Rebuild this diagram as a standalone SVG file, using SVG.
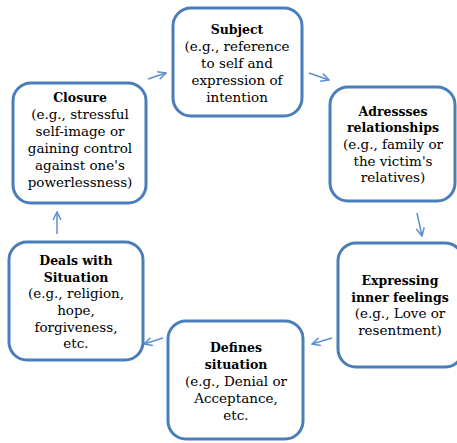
<svg xmlns="http://www.w3.org/2000/svg" width="457" height="443" viewBox="0 0 457 443">
<defs>
<style>
.box{fill:#fff;stroke:#4A7EBB;stroke-width:3}
.t{font-family:'DejaVu Serif',serif;font-size:13.5px;fill:#000;text-anchor:middle}
.b{font-weight:bold;font-size:12.5px}
.c{stroke:#5B8FD0;stroke-width:1.5;fill:none}
</style>
<marker id="ah" viewBox="0 0 10 10" refX="9" refY="5" markerWidth="10" markerHeight="10" markerUnits="userSpaceOnUse" orient="auto">
<path d="M1,1 L9,5 L1,9" fill="none" stroke="#5B8FD0" stroke-width="1.5"/>
</marker>
</defs>
<rect width="457" height="443" fill="#fff"/>
<g id="connectors">
<line class="c" x1="148" y1="79" x2="166" y2="73" marker-end="url(#ah)"/>
<line class="c" x1="309" y1="73" x2="329" y2="80" marker-end="url(#ah)"/>
<line class="c" x1="417" y1="213" x2="422" y2="236" marker-end="url(#ah)"/>
<line class="c" x1="332" y1="338" x2="312" y2="344" marker-end="url(#ah)"/>
<line class="c" x1="163" y1="338" x2="144" y2="344" marker-end="url(#ah)"/>
<line class="c" x1="57" y1="234" x2="57" y2="212" marker-end="url(#ah)"/>
</g>
<g id="subject">
<rect class="box" x="173" y="8" width="129" height="108" rx="18"/>
<text class="t b" x="237" y="34">Subject</text>
<text class="t" x="237" y="51">(e.g., reference</text>
<text class="t" x="237" y="68">to self and</text>
<text class="t" x="237" y="85">expression of</text>
<text class="t" x="237" y="102">intention</text>
</g>
<g id="adresses">
<rect class="box" x="330" y="87" width="125" height="114" rx="18"/>
<text class="t b" x="393" y="116">Adressses</text>
<text class="t b" x="393" y="132">relationships</text>
<text class="t" x="393" y="149">(e.g., family or</text>
<text class="t" x="393" y="166">the victim's</text>
<text class="t" x="393" y="182">relatives)</text>
</g>
<g id="expressing">
<rect class="box" x="338" y="243" width="125" height="124" rx="18"/>
<text class="t b" x="400" y="285">Expressing</text>
<text class="t b" x="400" y="302">inner feelings</text>
<text class="t" x="400" y="318">(e.g., Love or</text>
<text class="t" x="400" y="335">resentment)</text>
</g>
<g id="defines">
<rect class="box" x="168" y="321" width="135" height="118" rx="18"/>
<text class="t b" x="236" y="352">Defines</text>
<text class="t b" x="236" y="369">situation</text>
<text class="t" x="236" y="386">(e.g., Denial or</text>
<text class="t" x="236" y="403">Acceptance,</text>
<text class="t" x="236" y="420">etc.</text>
</g>
<g id="deals">
<rect class="box" x="9" y="242" width="134" height="118" rx="18"/>
<text class="t b" x="76" y="265">Deals with</text>
<text class="t b" x="76" y="282">Situation</text>
<text class="t" x="76" y="298">(e.g., religion,</text>
<text class="t" x="76" y="315">hope,</text>
<text class="t" x="76" y="332">forgiveness,</text>
<text class="t" x="76" y="348">etc.</text>
</g>
<g id="closure">
<rect class="box" x="13" y="83" width="133" height="120" rx="18"/>
<text class="t b" x="80" y="102">Closure</text>
<text class="t" x="80" y="119">(e.g., stressful</text>
<text class="t" x="80" y="136">self-image or</text>
<text class="t" x="80" y="153">gaining control</text>
<text class="t" x="80" y="170">against one's</text>
<text class="t" x="80" y="187">powerlessness)</text>
</g>
</svg>
